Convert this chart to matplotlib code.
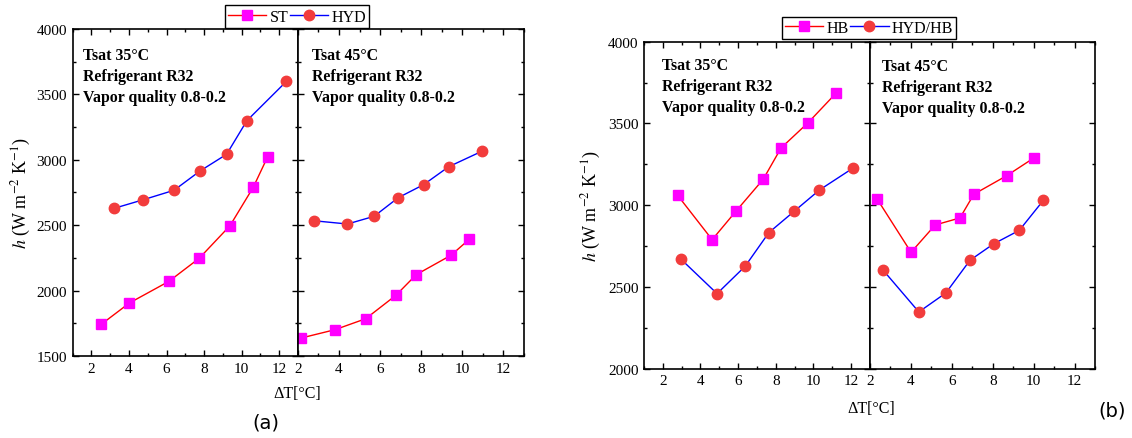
import matplotlib
matplotlib.use("Agg")
import matplotlib.pyplot as plt
from matplotlib.ticker import MultipleLocator
from matplotlib.lines import Line2D

plt.rcParams['font.family'] = ['Liberation Serif', 'DejaVu Serif']
plt.rcParams['mathtext.fontset'] = 'stix'

# (a) Tsat 35 C
a35_st_x = [2.52, 4.02, 6.13, 7.74, 9.38, 10.62, 11.38]
a35_st_h = [1742, 1905, 2071, 2247, 2496, 2790, 3021]
a35_hyd_x = [3.21, 4.77, 6.40, 7.78, 9.20, 10.28, 12.39]
a35_hyd_h = [2629, 2695, 2767, 2914, 3042, 3299, 3600]
# (a) Tsat 45 C
a45_st_x = [2.17, 3.80, 5.30, 6.77, 7.76, 9.45, 10.34]
a45_st_h = [1638, 1701, 1785, 1964, 2122, 2270, 2392]
a45_hyd_x = [2.78, 4.41, 5.71, 6.88, 8.12, 9.34, 10.98]
a45_hyd_h = [2534, 2509, 2568, 2710, 2810, 2947, 3067]

# (b) Tsat 35 C
b35_hb_x = [2.78, 4.62, 5.89, 7.33, 8.28, 9.72, 11.19]
b35_hb_h = [3061, 2789, 2964, 3158, 3350, 3505, 3684]
b35_hyd_x = [2.97, 4.88, 6.37, 7.63, 8.99, 10.32, 12.09]
b35_hyd_h = [2669, 2459, 2626, 2832, 2964, 3093, 3226]
# (b) Tsat 45 C
b45_hb_x = [2.36, 4.01, 5.19, 6.40, 7.08, 8.68, 10.04]
b45_hb_h = [3036, 2712, 2879, 2922, 3067, 3180, 3291]
b45_hyd_x = [2.62, 4.39, 5.71, 6.89, 8.04, 9.30, 10.48]
b45_hyd_h = [2606, 2347, 2463, 2663, 2763, 2846, 3030]

xticks = [2, 4, 6, 8, 10, 12]
info35 = "Tsat 35\u00b0C\nRefrigerant R32\nVapor quality 0.8-0.2"
info45 = "Tsat 45\u00b0C\nRefrigerant R32\nVapor quality 0.8-0.2"

sq_style = dict(color='#FF0000', marker='s', markerfacecolor='#FF00FF',
                markeredgecolor='#FF00FF', markersize=6.5, linewidth=1.0)
ci_style = dict(color='#0000FF', marker='o', markerfacecolor='#F23C3C',
                markeredgecolor='#F23C3C', markersize=7.5, linewidth=1.0)

fig = plt.figure(figsize=(11.32, 4.39), dpi=100)


def add_panel(rect, xlim, ylim, left):
    ax = fig.add_axes(rect)
    ax.set_xlim(xlim)
    ax.set_ylim(ylim)
    ax.set_xticks(xticks)
    ax.xaxis.set_minor_locator(MultipleLocator(1))
    ax.yaxis.set_major_locator(MultipleLocator(500))
    ax.yaxis.set_minor_locator(MultipleLocator(250))
    ax.tick_params(which='both', direction='in', top=True, right=True,
                   labelsize=11, width=1.0)
    ax.tick_params(which='major', length=4.5, pad=4)
    ax.tick_params(which='minor', length=2.5)
    if not left:
        ax.tick_params(labelleft=False)
    for s in ax.spines.values():
        s.set_linewidth(1.2)
    return ax


ylab = r'$h$ (W m$^{-2}$ K$^{-1}$)'
tkw = dict(fontsize=11.4, fontweight='bold', va='top', linespacing=1.42)

# ---- (a)
ax1 = add_panel([0.0642, 0.1868, 0.1990, 0.7449], (1, 13), (1500, 4000), True)
ax2 = add_panel([0.2632, 0.1868, 0.1996, 0.7449], (2, 13), (1500, 4000), False)
ax1.plot(a35_st_x, a35_st_h, **sq_style)
ax1.plot(a35_hyd_x, a35_hyd_h, **ci_style)
ax2.plot(a45_st_x, a45_st_h, **sq_style)
ax2.plot(a45_hyd_x, a45_hyd_h, **ci_style)
ax1.text(0.046, 0.946, info35, transform=ax1.transAxes, **tkw)
ax2.text(0.061, 0.946, info45, transform=ax2.transAxes, **tkw)
ax1.set_ylabel(ylab, fontsize=13)
ax1.yaxis.set_label_coords(-0.175, 0.5)

# ---- (b)
ax3 = add_panel([0.5689, 0.1579, 0.1996, 0.7449], (1, 13), (2000, 4000), True)
ax4 = add_panel([0.7685, 0.1579, 0.1988, 0.7449], (2, 13), (2000, 4000), False)
ax3.plot(b35_hb_x, b35_hb_h, **sq_style)
ax3.plot(b35_hyd_x, b35_hyd_h, **ci_style)
ax4.plot(b45_hb_x, b45_hb_h, **sq_style)
ax4.plot(b45_hyd_x, b45_hyd_h, **ci_style)
ax3.text(0.078, 0.952, info35, transform=ax3.transAxes, **tkw)
ax4.text(0.055, 0.950, info45, transform=ax4.transAxes, **tkw)
ax3.set_ylabel(ylab, fontsize=13)
ax3.yaxis.set_label_coords(-0.18, 0.5)

# legends
lkw = dict(loc='center', ncol=2, fontsize=11.5, frameon=True, fancybox=False,
           edgecolor='black', framealpha=1, borderpad=0.2, handlelength=2.4,
           handletextpad=0.2, columnspacing=0.1, borderaxespad=0)
h_sq = Line2D([], [], **sq_style)
h_ci = Line2D([], [], **ci_style)
lg1 = fig.legend([h_sq, h_ci], ['ST', 'HYD'], bbox_to_anchor=(297 / 1132, 1 - 17.5 / 439), **lkw)
lg2 = fig.legend([h_sq, h_ci], ['HB', 'HYD/HB'], bbox_to_anchor=(869 / 1132, 1 - 29 / 439), **lkw)
for lg in (lg1, lg2):
    lg.get_frame().set_linewidth(1.0)

# x labels and panel tags
fig.text(297 / 1132, 1 - 394 / 439, '\u0394T[\u00b0C]', fontsize=11.5, ha='center', va='center')
fig.text(871 / 1132, 1 - 409 / 439, '\u0394T[\u00b0C]', fontsize=11.5, ha='center', va='center')
fig.text(266 / 1132, 1 - 423 / 439, '(a)', fontsize=14, ha='center', va='center', family='DejaVu Sans')
fig.text(1112 / 1132, 1 - 411 / 439, '(b)', fontsize=14, ha='center', va='center', family='DejaVu Sans')

fig.savefig('out.png', dpi=100)
plt.close(fig)
